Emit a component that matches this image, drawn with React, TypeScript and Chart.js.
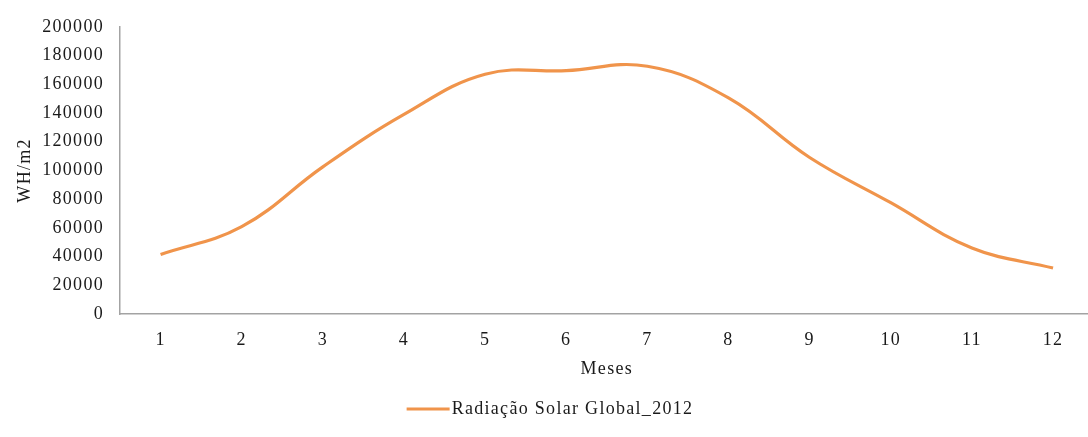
import React, { useEffect, useRef } from "react";
import { Chart, registerables } from "chart.js";

Chart.register(...registerables);

// Monthly global solar radiation, 2012 (Wh/m²)
const months = ["1", "2", "3", "4", "5", "6", "7", "8", "9", "10", "11", "12"];
const radiacaoSolar2012 = [41500, 60800, 102500, 139000, 167000, 169500, 172500, 150500, 109000, 77500, 46000, 32000];
const seriesLabel = "Radiação Solar Global_2012";
const yAxisTitle = "WH/m2";
const xAxisTitle = "Meses";
const yMin = 0;
const yMax = 200000;
const yStep = 20000;

const FONT = '"Liberation Serif", "Times New Roman", serif';
const FONT_SIZE = 18;
const TEXT_COLOR = "#1a1a1a";
const LINE_COLOR = "#F0944B";
const AXIS_COLOR = "#a3a3a3";
const SPACING = "1.3px";

const W = 1100;
const H = 437;

// Wide character spacing for every label drawn on the canvas
const textSpacing = {
  id: "textSpacing",
  beforeLayout(chart: any) {
    chart.ctx.letterSpacing = SPACING;
  },
  beforeDraw(chart: any) {
    chart.ctx.letterSpacing = SPACING;
  },
};

// Bottom legend: a short line sample followed by the series name
const lineLegend = {
  id: "lineLegend",
  afterDraw(chart: any) {
    const ctx = chart.ctx;
    const ds = chart.data.datasets[0];
    ctx.save();
    ctx.letterSpacing = SPACING;
    ctx.font = `${FONT_SIZE}px ${FONT}`;
    const sample = 43;
    const gap = 2;
    const tw = ctx.measureText(ds.label).width;
    const total = sample + gap + tw;
    const x0 = chart.width / 2 - total / 2;
    const y = 409;
    ctx.strokeStyle = ds.borderColor;
    ctx.lineWidth = 3;
    ctx.beginPath();
    ctx.moveTo(x0, y);
    ctx.lineTo(x0 + sample, y);
    ctx.stroke();
    ctx.fillStyle = TEXT_COLOR;
    ctx.textBaseline = "middle";
    ctx.textAlign = "left";
    ctx.fillText(ds.label, x0 + sample + gap, y);
    ctx.restore();
  },
};

export default function App() {
  const canvasRef = useRef<HTMLCanvasElement | null>(null);

  useEffect(() => {
    if (!canvasRef.current) return;
    const font = { family: FONT, size: FONT_SIZE };
    const chart = new Chart(canvasRef.current, {
      type: "line",
      data: {
        labels: months,
        datasets: [
          {
            label: seriesLabel,
            data: radiacaoSolar2012,
            borderColor: LINE_COLOR,
            backgroundColor: LINE_COLOR,
            borderWidth: 3.2,
            pointRadius: 0,
            tension: 0.4,
            fill: false,
          },
        ],
      },
      options: {
        animation: false,
        responsive: false,
        devicePixelRatio: 1,
        layout: { padding: { top: 26, left: 0, right: W - 1093.6, bottom: 0 } },
        plugins: {
          legend: { display: false },
          tooltip: { enabled: false },
        },
        scales: {
          x: {
            offset: true,
            grid: { display: false, drawTicks: false },
            border: { display: true, color: AXIS_COLOR, width: 1.5 },
            ticks: {
              color: TEXT_COLOR,
              font,
              padding: 15,
              maxRotation: 0,
            },
            title: {
              display: true,
              text: xAxisTitle,
              color: TEXT_COLOR,
              font,
              padding: { top: 0, bottom: 57.2 },
            },
            afterFit(scale: any) {
              scale.height = H - 314;
            },
          },
          y: {
            min: yMin,
            max: yMax,
            grid: { display: false, drawTicks: false },
            border: { display: true, color: AXIS_COLOR, width: 1.5 },
            ticks: {
              stepSize: yStep,
              color: TEXT_COLOR,
              font,
              padding: 16,
              callback: (v: any) => String(v),
            },
            title: {
              display: true,
              text: yAxisTitle,
              color: TEXT_COLOR,
              font,
              padding: { top: 14.2, bottom: 0 },
            },
            afterFit(scale: any) {
              scale.width = 120;
            },
          },
        },
      },
      plugins: [textSpacing, lineLegend],
    });
    return () => chart.destroy();
  }, []);

  return (
    <div
      style={{
        position: "absolute",
        left: 0,
        top: 0,
        width: 1088,
        height: H,
        overflow: "hidden",
        background: "#ffffff",
      }}
    >
      <canvas ref={canvasRef} width={W} height={H} style={{ display: "block" }} />
    </div>
  );
}
